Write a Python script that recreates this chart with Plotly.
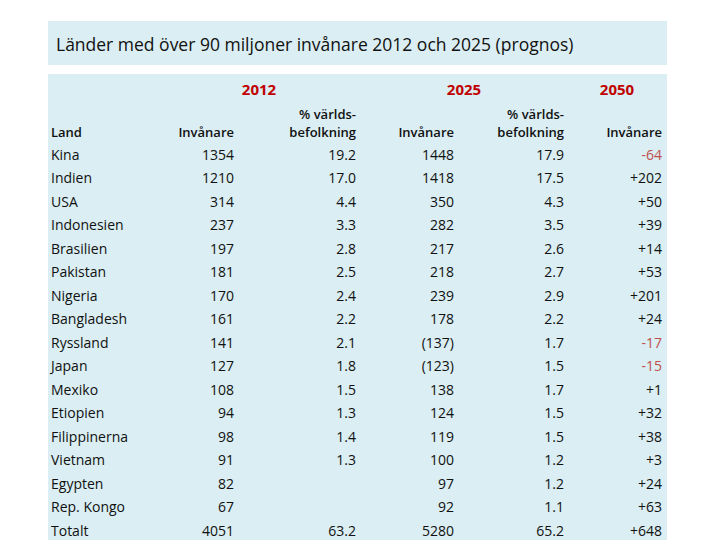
import plotly.graph_objects as go

# ---- data ----
countries = ["Kina", "Indien", "USA", "Indonesien", "Brasilien", "Pakistan", "Nigeria",
             "Bangladesh", "Ryssland", "Japan", "Mexiko", "Etiopien", "Filippinerna",
             "Vietnam", "Egypten", "Rep. Kongo", "Totalt"]
pop_2012 = ["1354", "1210", "314", "237", "197", "181", "170", "161", "141", "127", "108",
            "94", "98", "91", "82", "67", "4051"]
share_2012 = ["19.2", "17.0", "4.4", "3.3", "2.8", "2.5", "2.4", "2.2", "2.1", "1.8", "1.5",
              "1.3", "1.4", "1.3", "", "", "63.2"]
pop_2025 = ["1448", "1418", "350", "282", "217", "218", "239", "178", "(137)", "(123)", "138",
            "124", "119", "100", "97", "92", "5280"]
share_2025 = ["17.9", "17.5", "4.3", "3.5", "2.6", "2.7", "2.9", "2.2", "1.7", "1.5", "1.7",
              "1.5", "1.5", "1.2", "1.2", "1.1", "65.2"]
change_2050 = ["-64", "+202", "+50", "+39", "+14", "+53", "+201", "+24", "-17", "-15", "+1",
               "+32", "+38", "+3", "+24", "+63", "+648"]
years = ["2012", "2025", "2050"]
col_headers = ["Land", "Invånare", "befolkning", "Invånare", "befolkning", "Invånare"]
share_header_top = "% världs-"
title = "Länder med över 90 miljoner invånare 2012 och 2025 (prognos)"

# ---- style ----
PANEL = "#DAEEF3"
TXT = "#111111"
RED = "#C00000"
NEG = "#C0504D"
FONT = "Open Sans"
FS = 14
OFF = 8  # page body margin

# column anchor x positions (page pixels)
x_land = 51
x_cols = [234, 356, 454, 564, 662]
x_years = [259, 464, 617]

rows = list(range(len(countries)))
fig = go.Figure()

fig.add_trace(go.Scatter(x=[x_land] * len(countries), y=rows, mode="text", text=countries,
                         textposition="middle right",
                         textfont=dict(family=FONT, size=FS, color=TXT), hoverinfo="skip"))

value_cols = [pop_2012, share_2012, pop_2025, share_2025, change_2050]
for xc, vals in zip(x_cols, value_cols):
    colors = [NEG if v.startswith("-") else TXT for v in vals]
    fig.add_trace(go.Scatter(x=[xc] * len(vals), y=rows, mode="text", text=vals,
                             textposition="middle left",
                             textfont=dict(family=FONT, size=FS, color=colors), hoverinfo="skip"))

hdr_y = -0.95
fig.add_trace(go.Scatter(x=[x_land], y=[hdr_y], mode="text", text=[col_headers[0]],
                         textposition="middle right",
                         textfont=dict(family=FONT, size=13, color=TXT, weight=600), hoverinfo="skip"))
fig.add_trace(go.Scatter(x=x_cols, y=[hdr_y] * 5, mode="text", text=col_headers[1:],
                         textposition="middle left",
                         textfont=dict(family=FONT, size=13, color=TXT, weight=600), hoverinfo="skip"))
fig.add_trace(go.Scatter(x=[x_cols[1], x_cols[3]], y=[-1.71, -1.71], mode="text",
                         text=[share_header_top] * 2, textposition="middle left",
                         textfont=dict(family=FONT, size=13, color=TXT, weight=600), hoverinfo="skip"))
fig.add_trace(go.Scatter(x=x_years, y=[-2.77] * 3, mode="text", text=years,
                         textposition="middle center",
                         textfont=dict(family=FONT, size=15, color=RED, weight="bold"), hoverinfo="skip"))

W, H = 720, 540
def px(v):
    return (v - OFF) / W
def py(v):
    return 1 - (v - OFF) / H

fig.add_shape(type="rect", xref="paper", yref="paper", x0=px(48), x1=px(667),
              y0=py(65), y1=py(21), fillcolor=PANEL, line_width=0, layer="below")
fig.add_shape(type="rect", xref="paper", yref="paper", x0=px(48), x1=px(667),
              y0=0, y1=py(74), fillcolor=PANEL, line_width=0, layer="below")

fig.add_annotation(xref="paper", yref="paper", x=px(54), y=py(44), text=title,
                   showarrow=False, xanchor="left", yanchor="middle",
                   font=dict(family=FONT, size=17.5, color=TXT))

# page y pixel = 155 + 23.5 * row
row0 = 156 - OFF
y_top = -row0 / 23.5
y_bot = (H - row0) / 23.5
fig.update_layout(
    width=W, height=H, margin=dict(l=0, r=0, t=0, b=0),
    paper_bgcolor="white", plot_bgcolor="rgba(0,0,0,0)", showlegend=False,
    xaxis=dict(range=[OFF, W + OFF], visible=False, fixedrange=True),
    yaxis=dict(range=[y_bot, y_top], visible=False, fixedrange=True),
)
fig.write_html("out.html")
